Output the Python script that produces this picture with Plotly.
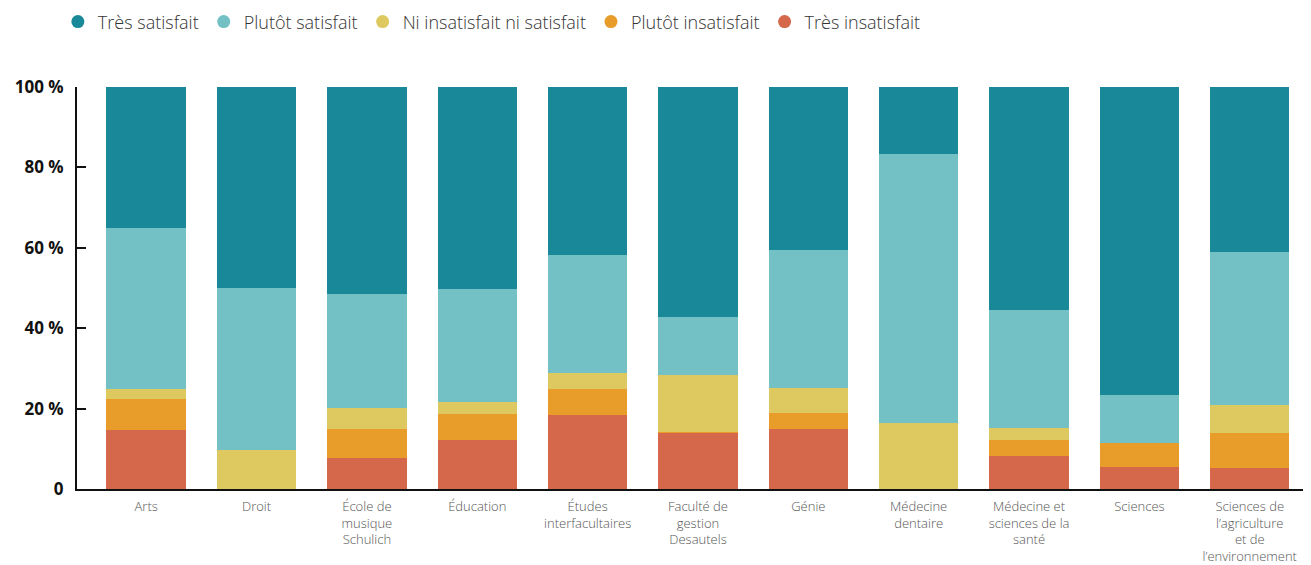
import plotly.graph_objects as go

categories = [
    "Arts", "Droit", "École de<br>musique<br>Schulich", "Éducation",
    "Études<br>interfacultaires", "Faculté de<br>gestion<br>Desautels", "Génie",
    "Médecine<br>dentaire", "Médecine et<br>sciences de la<br>santé", "Sciences",
    "Sciences de<br>l’agriculture<br>et de<br>l’environnement",
]

tres_insatisfait = [14.7, 0.0, 7.7, 12.2, 18.4, 14.0, 14.9, 0.0, 8.2, 5.5, 5.2]
plutot_insatisfait = [7.7, 0.0, 7.2, 6.5, 6.5, 0.1, 4.0, 0.0, 4.0, 5.9, 8.7]
ni_ni = [2.5, 9.7, 5.2, 2.9, 4.0, 14.3, 6.2, 16.4, 3.0, 0.0, 7.0]
plutot_satisfait = [40.0, 40.3, 28.4, 28.2, 29.3, 14.4, 34.4, 66.9, 29.3, 12.0, 38.1]
tres_satisfait = [35.1, 50.0, 51.5, 50.2, 41.8, 57.2, 40.5, 16.7, 55.5, 76.6, 41.0]

series_names = ["Très satisfait", "Plutôt satisfait", "Ni insatisfait ni satisfait",
                "Plutôt insatisfait", "Très insatisfait"]
series_values = [tres_satisfait, plutot_satisfait, ni_ni, plutot_insatisfait, tres_insatisfait]
colors = ["#19899a", "#73c1c4", "#dec961", "#e89d2a", "#d5674b"]

y_tickvals = [0, 20, 40, 60, 80, 100]
y_ticktext = ["0", "20 %", "40 %", "60 %", "80 %", "100 %"]

fig = go.Figure()

# bars, bottom to top
for name, vals, col in reversed(list(zip(series_names, series_values, colors))):
    fig.add_trace(go.Bar(x=categories, y=vals, name=name, marker=dict(color=col, line=dict(width=0)),
                         showlegend=False))

# legend entries with circle markers
for name, col in zip(series_names, colors):
    fig.add_trace(go.Scatter(x=[None], y=[None], mode="markers", name=name,
                             marker=dict(symbol="circle", size=13, color=col)))

fig.update_layout(
    width=1303, height=557,
    barmode="stack", bargap=0.28,
    plot_bgcolor="white", paper_bgcolor="white",
    margin=dict(l=69, r=0, t=79, b=76, autoexpand=False),
    font=dict(family="Open Sans", color="#333"),
    legend=dict(orientation="h", x=-0.0155, xanchor="left", y=1.162, yanchor="middle",
                font=dict(family="Open Sans", size=18, color="#333", weight=300),
                traceorder="normal", itemwidth=30, bgcolor="rgba(0,0,0,0)"),
    xaxis=dict(range=[-0.627, 10.555], showline=True, linecolor="#111", linewidth=2,
               ticks="", ticklabelstandoff=4, automargin=False,
               tickfont=dict(family="Open Sans", size=13, color="#555", weight=300),
               showgrid=False, zeroline=False),
    yaxis=dict(range=[0, 100], tickvals=y_tickvals, ticktext=y_ticktext,
               showline=True, linecolor="#111", linewidth=2,
               ticks="inside", ticklen=9, tickwidth=2, tickcolor="#111",
               ticklabelstandoff=8, automargin=False,
               tickfont=dict(family="Open Sans", size=17, color="#111", weight="bold"),
               showgrid=False, zeroline=False),
)

fig.write_html("out.html")
